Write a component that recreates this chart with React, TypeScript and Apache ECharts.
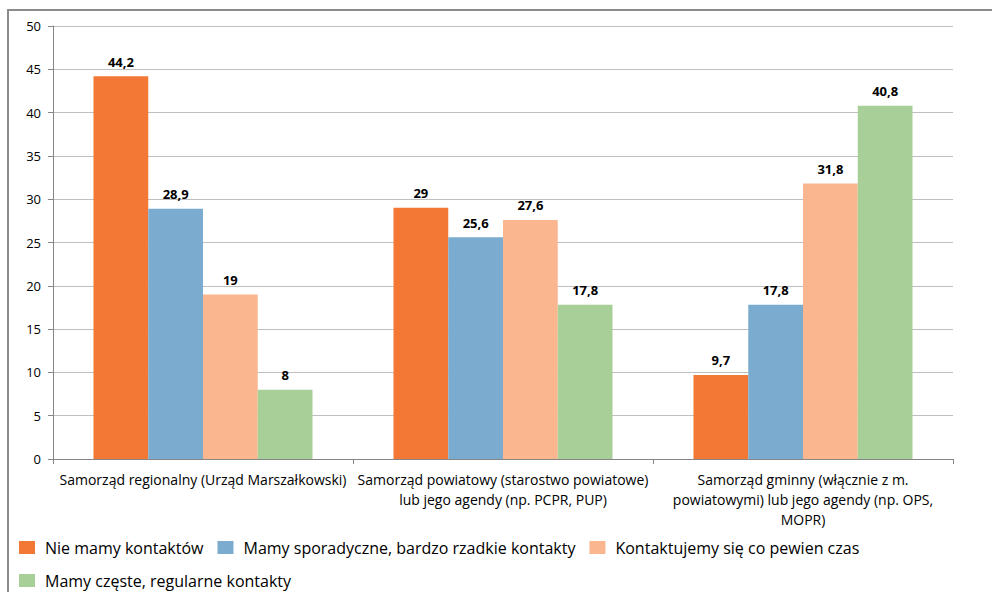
import React, { useEffect, useRef } from "react";
import * as echarts from "echarts";

const categories = [
  "Samorząd regionalny (Urząd Marszałkowski)",
  "Samorząd powiatowy (starostwo powiatowe)\nlub jego agendy (np. PCPR, PUP)",
  "Samorząd gminny (włącznie z m.\npowiatowymi) lub jego agendy (np. OPS,\nMOPR)",
];
const seriesNames = [
  "Nie mamy kontaktów",
  "Mamy sporadyczne, bardzo rzadkie kontakty",
  "Kontaktujemy się co pewien czas",
  "Mamy częste, regularne kontakty",
];
const noContact = [44.2, 29, 9.7];
const sporadic = [28.9, 25.6, 17.8];
const sometimes = [19, 27.6, 31.8];
const frequent = [8, 17.8, 40.8];
const colors = ["#F37735", "#7BACCF", "#FAB68F", "#A9CF99"];

export default function App() {
  const ref = useRef<HTMLDivElement>(null);
  useEffect(() => {
    if (!ref.current) return;
    const chart = echarts.init(ref.current, null, { renderer: "svg" });
    const font = "Open Sans, sans-serif";
    const values = [noContact, sporadic, sometimes, frequent];
    chart.setOption({
      animation: false,
      backgroundColor: "#ffffff",
      graphic: [
        {
          type: "rect",
          shape: { x: 8, y: 10, width: 1000, height: 600 },
          style: { fill: "none", stroke: "#8c8c8c", lineWidth: 2 },
          silent: true,
        },
      ],
      grid: { left: 53, right: 39, top: 26, bottom: 133 },
      legend: {
        left: 19,
        top: 538,
        width: 900,
        padding: 0,
        itemWidth: 16,
        itemHeight: 13,
        itemGap: 14,
        icon: "rect",
        textStyle: { fontFamily: font, fontSize: 16, color: "#000", padding: [2, 0, 0, 5], lineHeight: 17 },
        data: seriesNames,
      },
      xAxis: {
        type: "category",
        data: categories,
        axisLine: { lineStyle: { color: "#868686" } },
        axisTick: { show: true, length: 5, lineStyle: { color: "#868686" } },
        axisLabel: {
          fontFamily: font,
          fontSize: 14,
          color: "#000",
          lineHeight: 20,
          margin: 10,
          interval: 0,
        },
      },
      yAxis: {
        type: "value",
        min: 0,
        max: 50,
        interval: 5,
        axisLine: { show: true, lineStyle: { color: "#868686" } },
        axisTick: { show: true, length: 5, lineStyle: { color: "#868686" } },
        splitLine: { lineStyle: { color: "#bfbfbf" } },
        axisLabel: { fontFamily: font, fontSize: 13, color: "#000", margin: 12 },
      },
      series: seriesNames.map((name, i) => ({
        name,
        type: "bar",
        data: values[i],
        barGap: "0%",
        barCategoryGap: "27%",
        itemStyle: { color: colors[i] },
        label: {
          show: true,
          position: "top",
          distance: 8,
          fontFamily: font,
          fontSize: 13,
          fontWeight: "bold",
          color: "#000",
          formatter: (p: any) => String(p.value).replace(".", ","),
        },
      })),
    });
    return () => chart.dispose();
  }, []);
  return <div ref={ref} style={{ width: 992, height: 592, position: "absolute", left: 0, top: 0 }} />;
}
